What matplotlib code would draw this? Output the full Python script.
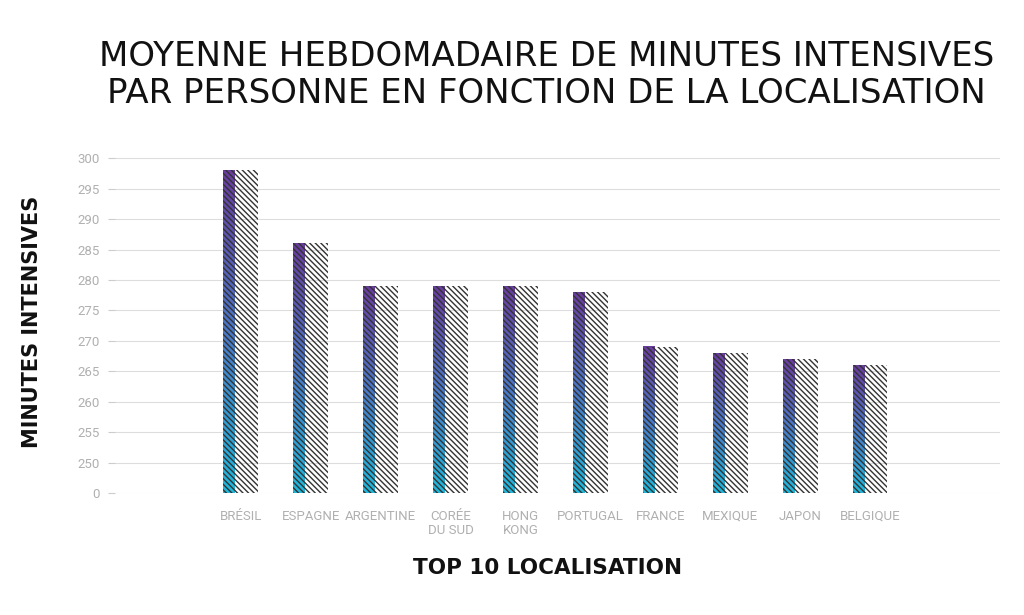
import numpy as np
import matplotlib
matplotlib.use('Agg')
import matplotlib.pyplot as plt
from matplotlib.colors import LinearSegmentedColormap

pays = ['BRÉSIL', 'ESPAGNE', 'ARGENTINE', 'CORÉE\nDU SUD', 'HONG\nKONG',
        'PORTUGAL', 'FRANCE', 'MEXIQUE', 'JAPON', 'BELGIQUE']
minutes = [298, 286, 279, 279, 279, 278, 269, 268, 267, 266]
yticks = [245, 250, 255, 260, 265, 270, 275, 280, 285, 290, 295, 300]
ylabels = ['0', '250', '255', '260', '265', '270', '275', '280', '285', '290', '295', '300']

base = 245
w = 0.5
wg = 0.17
cmap = LinearSegmentedColormap.from_list('grad', ['#1fb8dc', '#4a78c8', '#6a3ca0'])
grad = np.linspace(0, 1, 256)[:, None]

plt.rcParams['hatch.linewidth'] = 1.0
fig = plt.figure(figsize=(10.24, 6.15), dpi=100)
ax = fig.add_axes([0.1123, 0.1984, 0.8643, 0.5463])
x = np.arange(len(pays))

for xi, v in zip(x, minutes):
    x0 = xi - w / 2
    ax.imshow(grad, cmap=cmap, origin='lower', aspect='auto',
              extent=[x0, x0 + wg, base, v], zorder=2)
ax.bar(x, np.array(minutes) - base, bottom=base, width=w, facecolor='none',
       edgecolor='#333333', hatch='\\' * 6, linewidth=0, zorder=3)

ax.set_xlim(-1.8, 10.86)
ax.set_ylim(base, 300.2)
ax.set_yticks(yticks)
ax.set_yticklabels(ylabels)
ax.set_xticks(x)
ax.set_xticklabels(pays, fontsize=9.5, color='#b0b0b0', family='Roboto', linespacing=1.1)
ax.tick_params(axis='x', length=0, pad=12)
ax.tick_params(axis='y', length=5, color='#cccccc', labelsize=9.5, labelcolor='#b0b0b0', pad=6)
for lab in ax.get_yticklabels():
    lab.set_family('Roboto')
ax.grid(axis='y', color='#dddddd', linewidth=0.8, zorder=0)
ax.set_axisbelow(True)
for s in ax.spines.values():
    s.set_visible(False)

fig.text(0.5335, 0.878, 'MOYENNE HEBDOMADAIRE DE MINUTES INTENSIVES\nPAR PERSONNE EN FONCTION DE LA LOCALISATION',
         ha='center', va='center', fontsize=24.5, family='DejaVu Sans', weight='normal',
         linespacing=1.17, color='#111111')
fig.text(0.535, 0.077, 'TOP 10 LOCALISATION', ha='center', va='center',
         fontsize=15.5, family='DejaVu Sans', weight='bold', color='#111111')
fig.text(0.031, 0.477, 'MINUTES INTENSIVES', ha='center', va='center', rotation=90,
         fontsize=15, family='DejaVu Sans', weight='bold', color='#111111')

fig.savefig('out.png', dpi=100)
